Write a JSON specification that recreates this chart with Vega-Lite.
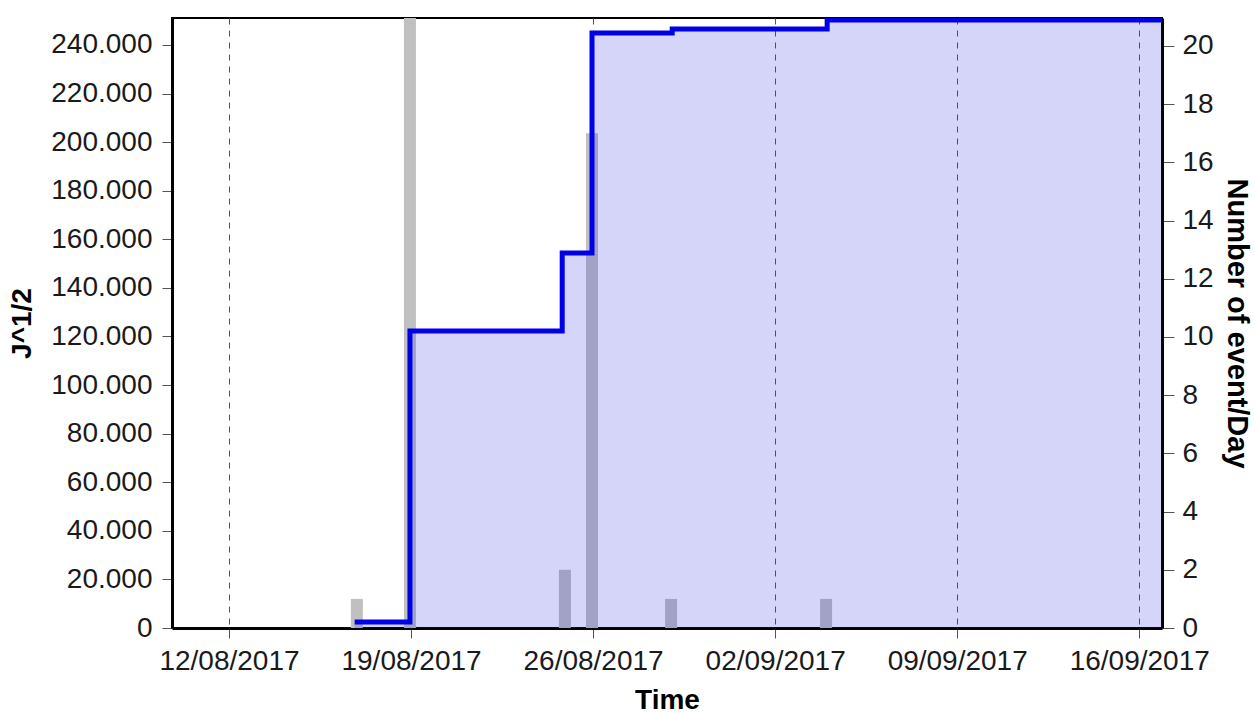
{
  "$schema": "https://vega.github.io/schema/vega-lite/v6.json",
  "width": 990,
  "height": 610,
  "autosize": {"type": "none"},
  "padding": {"left": 172, "top": 18, "right": 93, "bottom": 85},
  "background": "white",
  "config": {
    "font": "Liberation Sans",
    "view": {"stroke": "black", "strokeWidth": 2},
    "axis": {
      "labelFont": "Liberation Sans",
      "titleFont": "Liberation Sans",
      "labelFontSize": 28,
      "titleFontSize": 28,
      "titleFontWeight": "bold",
      "labelColor": "#1a1a1a",
      "titleColor": "#000000",
      "domainColor": "#000000",
      "domainWidth": 3,
      "tickColor": "#555555",
      "tickWidth": 1,
      "labelOverlap": false,
      "labelFlush": false
    }
  },
  "datasets": {
    "events": [
      {"time": "2017-08-16T22:00:00Z", "count": 1},
      {"time": "2017-08-18T23:00:00Z", "count": 25},
      {"time": "2017-08-24T22:00:00Z", "count": 2},
      {"time": "2017-08-25T23:00:00Z", "count": 17},
      {"time": "2017-08-29T00:00:00Z", "count": 1},
      {"time": "2017-09-03T23:00:00Z", "count": 1}
    ],
    "cumulative": [
      {"time": "2017-08-16T20:00:00Z", "value": 2500},
      {"time": "2017-08-18T23:00:00Z", "value": 122300},
      {"time": "2017-08-24T19:30:00Z", "value": 154400},
      {"time": "2017-08-25T23:00:00Z", "value": 244900},
      {"time": "2017-08-29T01:00:00Z", "value": 246600},
      {"time": "2017-09-04T00:00:00Z", "value": 250300},
      {"time": "2017-09-16T21:00:00Z", "value": 250300}
    ]
  },
  "encoding": {
    "x": {
      "field": "time",
      "type": "temporal",
      "scale": {"type": "utc", "domain": [1502306700000, 1505595600000], "nice": false, "padding": 0},
      "axis": {
        "values": [1502496000000, 1503100800000, 1503705600000, 1504310400000, 1504915200000, 1505520000000],
        "labelExpr": "utcFormat(datum.value, '%d/%m/%Y')",
        "title": "Time",
        "grid": true,
        "gridDash": [6, 6],
        "gridColor": "#555555",
        "gridWidth": 1,
        "tickSize": 10,
        "labelPadding": 9,
        "titleBaseline": "alphabetic",
        "titleY": 80
      }
    }
  },
  "layer": [
    {
      "data": {"name": "events"},
      "mark": {"type": "bar", "width": 12, "color": "#c0c0c0", "clip": true},
      "encoding": {
        "y": {
          "field": "count",
          "type": "quantitative",
          "scale": {"domain": [0, 20.96], "nice": false},
          "axis": {
            "orient": "right",
            "values": [0, 2, 4, 6, 8, 10, 12, 14, 16, 18, 20],
            "title": "Number of event/Day",
            "titleFontSize": 29,
            "titleAngle": 90,
            "titleX": 74,
            "titleY": 305,
            "titleBaseline": "middle",
            "titleAlign": "center",
            "grid": false,
            "tickSize": 12,
            "labelPadding": 8
          }
        }
      }
    },
    {
      "data": {"name": "cumulative"},
      "encoding": {
        "y": {
          "field": "value",
          "type": "quantitative",
          "scale": {"domain": [0, 251100], "nice": false},
          "axis": {
            "orient": "left",
            "values": [0, 20000, 40000, 60000, 80000, 100000, 120000, 140000, 160000, 180000, 200000, 220000, 240000],
            "labelExpr": "replace(format(datum.value, ','), ',', '.')",
            "title": "J^1/2",
            "titleAngle": -90,
            "titleX": -150,
            "titleY": 305,
            "titleBaseline": "middle",
            "titleAlign": "center",
            "grid": false,
            "tickSize": 10,
            "labelPadding": 10
          }
        }
      },
      "layer": [
        {
          "mark": {"type": "area", "interpolate": "step-after", "fill": "#2020e0", "fillOpacity": 0.19, "clip": true}
        },
        {
          "mark": {"type": "line", "interpolate": "step-after", "color": "#0000e6", "strokeWidth": 5, "clip": true}
        }
      ]
    }
  ],
  "resolve": {"scale": {"y": "independent"}}
}
